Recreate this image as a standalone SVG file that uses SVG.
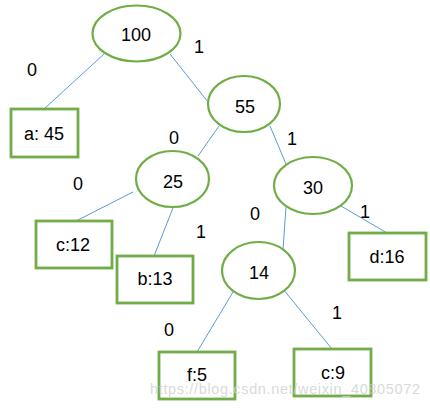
<svg xmlns="http://www.w3.org/2000/svg" width="430" height="408" viewBox="0 0 430 408">
<style>
.n{fill:#fff;stroke:#70AD47;stroke-width:2.2}
.b{fill:#fff;stroke:#70AD47;stroke-width:2.8}
.e{stroke:#5B9BD5;stroke-width:1;fill:none}
text{font-family:"Liberation Sans",Arial,sans-serif;font-size:18px;fill:#000;text-anchor:middle;dominant-baseline:central}
.wm{font-size:14.5px;fill:#cfcfcf;fill-opacity:0.8;text-anchor:start;dominant-baseline:auto}
</style>
<rect width="430" height="408" fill="#fff"/>
<g id="connectors">
<line class="e" x1="104" y1="54" x2="44" y2="109"/>
<line class="e" x1="170" y1="54" x2="208" y2="102"/>
<line class="e" x1="219" y1="126" x2="198" y2="156"/>
<line class="e" x1="270" y1="126" x2="286" y2="164"/>
<line class="e" x1="133" y1="192" x2="76" y2="221"/>
<line class="e" x1="173" y1="208" x2="154" y2="256"/>
<line class="e" x1="341" y1="206" x2="387" y2="233"/>
<line class="e" x1="286" y1="207" x2="283" y2="250"/>
<line class="e" x1="233" y1="292" x2="197" y2="352"/>
<line class="e" x1="283" y1="289" x2="332" y2="349"/>
</g>
<g id="labels">
<text x="32" y="70">0</text>
<text x="199" y="47">1</text>
<text x="174" y="138">0</text>
<text x="292" y="139">1</text>
<text x="78" y="184">0</text>
<text x="201" y="232">1</text>
<text x="255" y="214">0</text>
<text x="365" y="212">1</text>
<text x="169" y="330">0</text>
<text x="337" y="313">1</text>
</g>
<g id="n100"><ellipse class="n" cx="136.5" cy="33.5" rx="44" ry="28"/><text x="136" y="35">100</text></g>
<g id="n55"><ellipse class="n" cx="244" cy="104" rx="36" ry="28"/><text x="245" y="107">55</text></g>
<g id="n30"><ellipse class="n" cx="313" cy="185.5" rx="39" ry="28.5"/><text x="313" y="188">30</text></g>
<g id="n25"><ellipse class="n" cx="172.5" cy="179" rx="36.5" ry="28"/><text x="173" y="182">25</text></g>
<g id="n14"><ellipse class="n" cx="258.5" cy="270.5" rx="36.5" ry="28.5"/><text x="259" y="273">14</text></g>
<g id="a45"><rect class="b" x="11" y="109" width="67" height="48"/><text x="44" y="134">a: 45</text></g>
<g id="c12"><rect class="b" x="36" y="221" width="76" height="47"/><text x="73" y="245">c:12</text></g>
<g id="b13"><rect class="b" x="117" y="256" width="76" height="47"/><text x="155" y="279">b:13</text></g>
<g id="d16"><rect class="b" x="349" y="233" width="77" height="47"/><text x="387" y="257">d:16</text></g>
<g id="f5"><rect class="b" x="159" y="352" width="76" height="47"/><text x="197" y="375">f:5</text></g>
<g id="c9"><rect class="b" x="294" y="349" width="77" height="47"/><text x="333" y="373">c:9</text></g>
<text class="wm" x="150" y="394" textLength="270">https://blog.csdn.net/weixin_40805072</text>
</svg>
